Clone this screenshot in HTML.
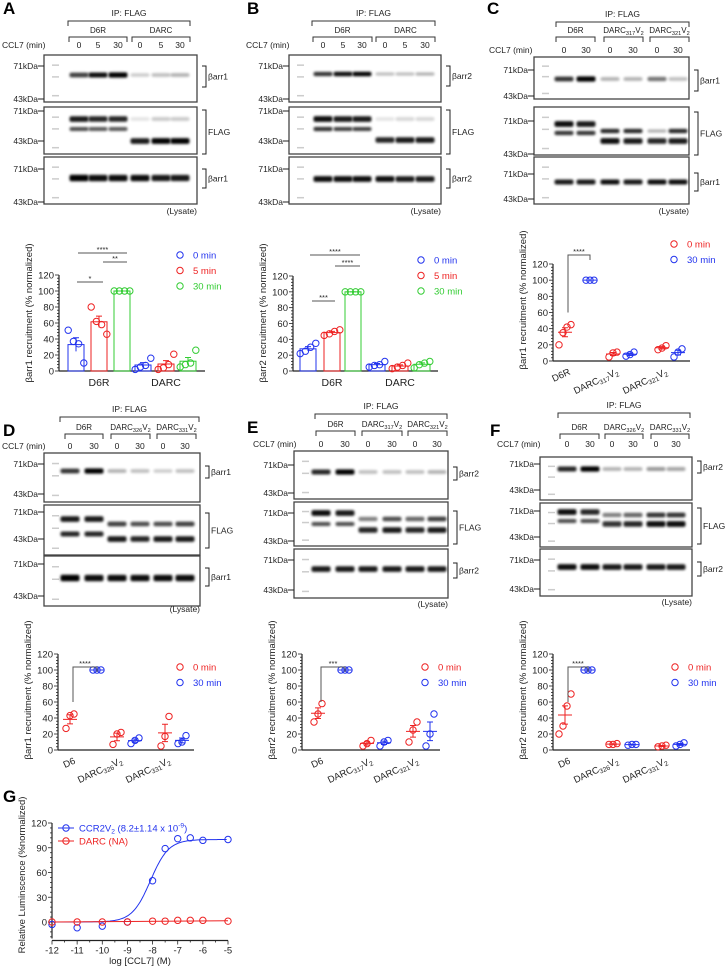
<!DOCTYPE html>
<html><head><meta charset="utf-8"><style>
html,body{margin:0;padding:0;background:#fff;}
svg{display:block;font-family:"Liberation Sans",Arial,sans-serif;}
</style></head><body>
<svg id="fig" width="726" height="971" viewBox="0 0 726 971" xmlns="http://www.w3.org/2000/svg">
<defs>
<filter id="blur" x="-50%" y="-100%" width="200%" height="300%"><feGaussianBlur stdDeviation="1.3"/></filter>
</defs>
</svg>
<script>
// ---------- DATA ----------
const aGroups=["D6R","DARC"];
const aT0=[[51,37,34,10],[2,5,7,16]];
const aT5=[[80,62,58,46],[2,4,8,21]];
const aT30=[[100,100,100,100],[5,8,10,26]];
const bT0=[[22,25,30,35],[5,7,8,12]];
const bT5=[[45,47,50,52],[3,5,7,10]];
const bT30=[[100,100,100,100],[4,8,10,12]];
const cRed=[[20,35,42,45],[5,10,11],[14,16,19]];
const cBlue=[[100,100,100],[6,8,11],[5,11,15]];
const dRed=[[27,43,45],[7,20,22],[5,17,42]];
const dBlue=[[100,100,100],[8,12,15],[8,10,18]];
const eRed=[[35,45,58],[5,8,12],[10,25,35]];
const eBlue=[[100,100,100],[5,10,12],[5,20,45]];
const fRed=[[20,30,55,70],[7,7,8],[4,5,6]];
const fBlue=[[100,100,100],[6,7,7],[5,7,9]];
const yTicks=[0,20,40,60,80,100,120];
const gX=[-12,-11,-10,-9,-8,-7.5,-7,-6.5,-6,-5];
const gBlue=[-3,-7,-5,0,50,89,101,102,99,100];
const gRed=[0,0,0,0,1,1,2,2,2,1];
const gXTicks=[-12,-11,-10,-9,-8,-7,-6,-5];
const gYTicks=[0,30,60,90,120];
const gLogEC50=-8.086, gHill=1.2;

const NS="http://www.w3.org/2000/svg";
const svg=document.getElementById('fig');
function mk(tag,attrs,parent){const e=document.createElementNS(NS,tag);for(const k in attrs)e.setAttribute(k,attrs[k]);(parent||svg).appendChild(e);return e;}
function txt(x,y,s,size,fill,anchor,extra){const t=mk('text',Object.assign({x:x,y:y,'font-size':size,fill:fill||'#222','text-anchor':anchor||'start'},extra||{}));t.innerHTML=s;return t;}
const RED='#ee2222',BLUE='#2233ee',GREEN='#33cc33';
function sub(n){return '<tspan font-size="70%" dy="2">'+n+'</tspan><tspan dy="-2">V</tspan><tspan font-size="70%" dy="2">2</tspan><tspan dy="-2"></tspan>';}
const FS=8.5, GFS=8;

// ---------- panel letters ----------
[['A',3,14],['B',247,14],['C',487,14],['D',3,436],['E',247,433],['F',490,436],['G',3,802]].forEach(p=>{
 const t=txt(p[1],p[2],p[0],17,'#000','start',{'font-weight':'bold'});
 
 
});

// ---------- BLOTS ----------
function blot(cfg){
 const g=mk('g',{});
 
 
 const ip=txt((cfg.ipX0+cfg.ipX1)/2,cfg.ipY,'IP: FLAG',FS,'#222','middle');g.appendChild(ip);
 
 
 mk('path',{d:`M${cfg.ipX0} ${cfg.ipY+10}V${cfg.ipY+5}H${cfg.ipX1}V${cfg.ipY+10}`,stroke:'#333',fill:'none','stroke-width':1},g);
 cfg.groups.forEach((gr)=>{
  const a=gr.x0,b=gr.x1;
  const gl=txt((a+b)/2,cfg.grY,gr.label,GFS,'#222','middle');g.appendChild(gl);
  
  
  mk('path',{d:`M${a} ${cfg.grY+9}V${cfg.grY+4}H${b}V${cfg.grY+9}`,stroke:'#333',fill:'none','stroke-width':1},g);
 });
 const cl=txt(cfg.cclX,cfg.laneY,'CCL7 (min)',FS,'#222','start');g.appendChild(cl);
 
 
 cfg.lanes.forEach((lx,i)=>{
  const t=txt(lx,cfg.laneY,cfg.laneLabels[i],FS,'#222','middle');g.appendChild(t);
  
  
 });
 cfg.boxes.forEach((bx,bi)=>{
  const y0=bx[0],y1=bx[1];
  const r=mk('rect',{x:cfg.x0,y:y0,width:cfg.x1-cfg.x0,height:y1-y0,fill:'#fff',stroke:'#444','stroke-width':1.3},g);
  
  
  [0.2,0.45,0.85].forEach(f=>mk('rect',{x:cfg.x0+8,y:y0+(y1-y0)*f,width:7,height:1.5,fill:'#999',opacity:0.5},g));
  cfg.bands[bi].forEach(bd=>{
   cfg.lanes.forEach((lx,li)=>{
    const v=bd.i[li]; if(v<=0)return;
    const hh=bd.h*(0.8+0.5*v);
    mk('rect',{x:lx-9.5,y:y0+bd.y-hh/2,width:19,height:hh,rx:2,fill:'#000',opacity:v,filter:'url(#blur)'},g);
   });
  });
  [[cfg.k71[bi],'71kDa'],[cfg.k43[bi],'43kDa']].forEach(k=>{
   const t=txt(cfg.x0-6,k[0]+3,k[1],FS,'#222','end');g.appendChild(t);
   
   
   mk('line',{x1:cfg.x0-6,x2:cfg.x0,y1:k[0],y2:k[0],stroke:'#222','stroke-width':1},g);
  });
  const lab=cfg.right[bi];
  const rb=lab.b;
  mk('path',{d:`M${cfg.x1+5} ${rb[0]}H${cfg.x1+9}V${rb[1]}H${cfg.x1+5}`,stroke:'#222',fill:'none','stroke-width':1},g);
  const rt=txt(cfg.x1+11,(rb[0]+rb[1])/2+3,lab.t,FS,'#222','start');g.appendChild(rt);
  
  
 });
 const ly=txt(cfg.x1,cfg.lysY,'(Lysate)',FS,'#222','end');g.appendChild(ly);
 
 
}
function B(y,h,i){return {y:y,h:h,i:i};}
const ll3=['0','5','30','0','5','30'], ll2=['0','30','0','30','0','30'];
blot({id:'a',x0:44,x1:197,ipX0:68,ipX1:190,ipY:16,grY:33,cclX:2,laneY:48,lanes:[79,98,118,140,161,180],laneLabels:ll3,
 groups:[{x0:69,x1:127,label:'D6R'},{x0:132,x1:190,label:'DARC'}],
 boxes:[[55,102],[107,154],[157,204]],k71:[66,111,169],k43:[99,141,202],
 right:[{t:'βarr1',b:[66,87]},{t:'FLAG',b:[110,154]},{t:'βarr1',b:[169,188]}],
 bands:[[B(20,4,[0.75,0.95,1,0.2,0.25,0.3])],[B(12,4.5,[0.9,0.85,0.85,0.1,0.2,0.2]),B(22,3.5,[0.7,0.65,0.65,0,0,0]),B(34,4.5,[0,0,0,0.9,1,1])],[B(21,5,[1,0.95,0.95,0.95,0.9,0.9])]],lysY:214});
blot({id:'b',x0:289,x1:441,ipX0:312,ipX1:435,ipY:16,grY:33,cclX:246,laneY:48,lanes:[323,343,362,385,405,425],laneLabels:ll3,
 groups:[{x0:313,x1:372,label:'D6R'},{x0:376,x1:435,label:'DARC'}],
 boxes:[[55,102],[107,154],[157,204]],k71:[66,111,169],k43:[99,141,202],
 right:[{t:'βarr2',b:[66,86]},{t:'FLAG',b:[110,154]},{t:'βarr2',b:[169,188]}],
 bands:[[B(19,3.5,[0.8,0.95,1,0.25,0.25,0.3])],[B(12,4.5,[0.95,0.9,0.9,0.1,0.15,0.15]),B(22,3.5,[0.8,0.75,0.75,0,0,0]),B(33,4.5,[0,0,0,0.85,0.9,0.9])],[B(22,4.5,[0.95,0.95,0.95,0.95,0.9,0.9])]],lysY:214});
blot({id:'c',x0:534,x1:689,ipX0:556,ipX1:689,ipY:17,grY:33,cclX:489,laneY:53,lanes:[564,586,610,633,657,678],laneLabels:ll2,
 groups:[{x0:556,x1:595,label:'D6R'},{x0:604,x1:643,label:'DARC'+sub('317')},{x0:650,x1:689,label:'DARC'+sub('321')}],
 boxes:[[57,99],[107,155],[157,204]],k71:[70,121,174],k43:[96,154,199],
 right:[{t:'βarr1',b:[70,91]},{t:'FLAG',b:[112,155]},{t:'βarr1',b:[173,191]}],
 bands:[[B(22,4,[0.8,1,0.3,0.3,0.55,0.25])],[B(17,4.5,[0.95,0.9,0,0,0,0]),B(24,3.5,[0,0,0.85,0.85,0.3,0.85]),B(26,3.5,[0.8,0.8,0,0,0,0]),B(34,4.5,[0,0,0.95,0.9,0.85,0.9])],[B(25,4,[0.9,0.9,0.95,0.9,0.95,0.95])]],lysY:214});
blot({id:'d',x0:44,x1:200,ipX0:60,ipX1:199,ipY:412,grY:430,cclX:2,laneY:449,lanes:[70,94,117,140,163,185],laneLabels:ll2,
 groups:[{x0:65,x1:103,label:'D6R'},{x0:111,x1:150,label:'DARC'+sub('326')},{x0:157,x1:196,label:'DARC'+sub('331')}],
 boxes:[[453,502],[505,555],[556,606]],k71:[464,512,564],k43:[494,539,596],
 right:[{t:'βarr1',b:[466,478]},{t:'FLAG',b:[513,548]},{t:'βarr1',b:[568,586]}],
 bands:[[B(18,4,[0.8,1,0.3,0.25,0.2,0.25])],[B(14,4.5,[0.9,0.9,0,0,0,0]),B(19,4,[0,0,0.75,0.7,0.7,0.75]),B(29,4,[0.85,0.85,0,0,0,0]),B(34,4.5,[0,0,0.9,0.85,0.9,0.9])],[B(22,5,[1,0.95,0.95,0.95,0.95,0.95])]],lysY:612});
blot({id:'e',x0:294,x1:448,ipX0:315,ipX1:447,ipY:409,grY:427,cclX:253,laneY:447,lanes:[321,345,368,392,415,437],laneLabels:ll2,
 groups:[{x0:316,x1:355,label:'D6R'},{x0:362,x1:402,label:'DARC'+sub('317')},{x0:408,x1:447,label:'DARC'+sub('321')}],
 boxes:[[451,499],[502,546],[549,598]],k71:[465,513,560],k43:[493,541,590],
 right:[{t:'βarr2',b:[467,480]},{t:'FLAG',b:[511,544]},{t:'βarr2',b:[563,578]}],
 bands:[[B(21,4,[0.85,1,0.25,0.25,0.25,0.3])],[B(11,4.5,[0.95,0.9,0,0,0,0]),B(17,4,[0,0,0.5,0.7,0.6,0.75]),B(22,3.5,[0.7,0.7,0,0,0,0]),B(28,4.5,[0,0,0.85,0.9,0.85,0.9])],[B(20,4.5,[0.9,0.9,0.9,0.9,0.9,0.9])]],lysY:607});
blot({id:'f',x0:540,x1:692,ipX0:558,ipX1:690,ipY:408,grY:430,cclX:497,laneY:447,lanes:[567,590,612,633,656,676],laneLabels:ll2,
 groups:[{x0:560,x1:599,label:'D6R'},{x0:605,x1:643,label:'DARC'+sub('326')},{x0:651,x1:689,label:'DARC'+sub('331')}],
 boxes:[[457,500],[503,547],[549,596]],k71:[464,511,560],k43:[490,537,589],
 right:[{t:'βarr2',b:[461,473]},{t:'FLAG',b:[508,544]},{t:'βarr2',b:[562,576]}],
 bands:[[B(12,4,[0.85,1,0.3,0.3,0.4,0.35])],[B(9,4.5,[0.95,0.85,0,0,0,0]),B(12,4,[0,0,0.5,0.6,0.8,0.8]),B(18,3.5,[0.7,0.7,0,0,0,0]),B(21,4.5,[0,0,0.8,0.85,0.95,0.95])],[B(18,4.5,[0.95,0.95,0.9,0.9,0.9,0.9])]],lysY:605});

// ---------- AXIS HELPERS ----------
function yAxis(ax,title){
 const y=v=>ax.y0-(v/120)*(ax.y0-ax.y120);
 const g=mk('g',{});
 
 
 mk('line',{x1:ax.x,x2:ax.x,y1:ax.y0,y2:ax.y120,stroke:'#222','stroke-width':1.2},g);
 for(let v=0;v<=120;v+=4){mk('line',{x1:ax.x-(v%20===0?4:2),x2:ax.x,y1:y(v),y2:y(v),stroke:'#222','stroke-width':0.8},g);}
 yTicks.forEach(v=>{const t=txt(ax.x-5,y(v)+3.5,String(v),9.5,'#222','end');g.appendChild(t);
  
  });
 mk('line',{x1:ax.x,x2:ax.x1,y1:ax.y0,y2:ax.y0,stroke:'#222','stroke-width':1.2},g);
 const cy=ax.titleY;
 const tt=txt(ax.x-27,cy,title,9.5,'#222','middle',{transform:`rotate(-90 ${ax.x-27} ${cy})`});
 
 
 return y;
}
function circ(x,y,c,name){const e=mk('circle',{cx:x,cy:y,r:3.2,fill:'none',stroke:c,'stroke-width':1});
 
 }
function spread(n,i){return (i-(n-1)/2)*4;}
function mean(a){return a.reduce((s,v)=>s+v,0)/a.length;}
function sem(a){const m=mean(a);return Math.sqrt(a.reduce((s,v)=>s+(v-m)*(v-m),0)/(a.length-1)/a.length);}
function legend(x,y,items){items.forEach((it,i)=>{circ(x,y+i*15.5,it[1],'legend-marker');
 const t=txt(x+13,y+i*15.5+3.5,it[0],9.5,it[1],'start');
 
 });}
function sig(x1,x2,yy,label){mk('line',{x1:x1,x2:x2,y1:yy,y2:yy,stroke:'#555','stroke-width':1});
 const t=txt((x1+x2)/2,yy-1,label,7.5,'#222','middle');
 
 }

// ---------- BAR CHARTS A, B ----------
function barChart(ax,series,colors,centers,title){
 const y=yAxis(ax,title);
 aGroups.forEach((gname,gi)=>{
  series.forEach((s,si)=>{
   const vals=s[gi],cx=centers[gi][si],m=mean(vals),se=sem(vals);
   const r=mk('rect',{x:cx-8,y:y(m),width:16,height:ax.y0-y(m),fill:'none',stroke:colors[si],'stroke-width':1});
   
   
   mk('path',{d:`M${cx} ${y(m-se)}V${y(m+se)}M${cx-3} ${y(m+se)}H${cx+3}`,stroke:colors[si],'stroke-width':1});
   vals.forEach((v,i)=>circ(cx+spread(vals.length,i)*1.3,y(v),colors[si],'data-point'));
  });
  const t=txt(centers[gi][1],ax.y0+15,gname,10.5,'#222','middle');
  
  
 });
}
barChart({x:59,x1:205,y0:371,y120:275,titleY:313},[aT0,aT5,aT30],[BLUE,RED,GREEN],[[76,99,122],[143,166,188]],'βarr1 recruitment (% normalized)');
legend(180,255,[['0 min',BLUE],['5 min',RED],['30 min',GREEN]]);
sig(78,127,253,'****');sig(103,127,262,'**');sig(77,103,282,'*');
barChart({x:293,x1:438,y0:371,y120:276,titleY:313},[bT0,bT5,bT30],[BLUE,RED,GREEN],[[308,332,353],[377,400,422]],'βarr2 recruitment (% normalized)');
legend(421,260,[['0 min',BLUE],['5 min',RED],['30 min',GREEN]]);
sig(310,360,255,'****');sig(335,360,266,'****');sig(312,335,301,'***');

// ---------- SCATTER CHARTS C-F ----------
function scatter(ax,red,blue,xs,cats,title){
 const y=yAxis(ax,title);
 [red,blue].forEach((ser,si)=>{
  const col=si===0?RED:BLUE;
  ser.forEach((vals,gi)=>{
   const cx=xs[gi][si],m=mean(vals),se=sem(vals);
   mk('path',{d:`M${cx-7} ${y(m)}H${cx+7}M${cx} ${y(m-se)}V${y(m+se)}M${cx-3} ${y(m-se)}H${cx+3}M${cx-3} ${y(m+se)}H${cx+3}`,stroke:col,'stroke-width':1});
   vals.forEach((v,i)=>circ(cx+spread(vals.length,i),y(v),col,'data-point'));
  });
 });
 cats.forEach((c,i)=>{const x=xs[i][0]+6;
  const t=txt(x,ax.y0+13,c,9.5,'#222','end',{transform:`rotate(-25 ${x} ${ax.y0+13})`});
  
  });
 const x1=xs[0][0]+3,x2=xs[0][1];
 mk('path',{d:`M${x1} ${y(60)}V${ax.sigY}H${x2}V${ax.sigY+5}`,stroke:'#555',fill:'none','stroke-width':1});
 const st=txt((x1+x2)/2,ax.sigY-1,ax.sig,7.5,'#222','middle');
 
 
 legend(ax.legX,ax.legY,[['0 min',RED],['30 min',BLUE]]);
}
scatter({x:553,x1:690,y0:361,y120:264,titleY:300,sigY:255,sig:'****',legX:674,legY:244},cRed,cBlue,[[565,590],[613,630],[662,678]],['D6R','DARC'+sub('317'),'DARC'+sub('321')],'βarr1 recruitment (% normalized)');
scatter({x:58,x1:194,y0:750,y120:654,titleY:690,sigY:667,sig:'****',legX:180,legY:667},dRed,dBlue,[[70,97],[117,135],[165,182]],['D6','DARC'+sub('326'),'DARC'+sub('331')],'βarr1 recruitment (% normalized)');
scatter({x:302,x1:440,y0:750,y120:654,titleY:690,sigY:667,sig:'***',legX:425,legY:667},eRed,eBlue,[[318,345],[367,384],[413,430]],['D6','DARC'+sub('317'),'DARC'+sub('321')],'βarr2 recruitment (% normalized)');
scatter({x:553,x1:690,y0:750,y120:654,titleY:690,sigY:667,sig:'****',legX:675,legY:667},fRed,fBlue,[[565,588],[613,632],[662,680]],['D6','DARC'+sub('326'),'DARC'+sub('331')],'βarr2 recruitment (% normalized)');

// ---------- PANEL G ----------
(function(){
 const gx=v=>52+(v+12)*(176/7);
 const gy=v=>922-v*(99/120);
 const g=mk('g',{});
 
 
 mk('line',{x1:52,x2:52,y1:gy(-20),y2:gy(120),stroke:'#222','stroke-width':1.2},g);
 mk('line',{x1:52,x2:228,y1:gy(-20)+2,y2:gy(-20)+2,stroke:'#222','stroke-width':1.2},g);
 for(let v=-18;v<=120;v+=6)mk('line',{x1:v%30===0?48:50,x2:52,y1:gy(v),y2:gy(v),stroke:'#222','stroke-width':0.8},g);
 gYTicks.forEach(v=>{const t=txt(47,gy(v)+3.5,String(v),9.5,'#222','end');
  
  });
 for(let v=-12;v<=-5;v+=0.5)mk('line',{x1:gx(v),x2:gx(v),y1:gy(-20)+2,y2:gy(-20)+(v%1===0?6:4),stroke:'#222','stroke-width':0.8},g);
 gXTicks.forEach(v=>{const t=txt(gx(v),gy(-20)+15,String(v),9.5,'#222','middle');
  
  });
 const xt=txt(140,964,'log [CCL7] (M)',9.5,'#222','middle');
 
 
 const yt=txt(25,875,'Relative Luminscence (%normalized)',9.5,'#222','middle',{transform:'rotate(-90 25 875)'});
 
 
 let d='';
 for(let v=-12;v<=-5;v+=0.05){const yy=100/(1+Math.pow(10,(gLogEC50-v)*gHill));d+=(d?'L':'M')+gx(v).toFixed(1)+' '+gy(yy).toFixed(1);}
 const cb=mk('path',{d:d,fill:'none',stroke:BLUE,'stroke-width':1});
 
 
 const cr=mk('path',{d:`M${gx(-12)} ${gy(0)}L${gx(-5)} ${gy(1.5)}`,fill:'none',stroke:RED,'stroke-width':1});
 
 
 gX.forEach((v,i)=>{circ(gx(v),gy(gBlue[i]),BLUE,'ccr2v2-point');circ(gx(v),gy(gRed[i]),RED,'darc-point');});
 mk('line',{x1:58,x2:74,y1:828,y2:828,stroke:BLUE},g);circ(66,828,BLUE,'legend-marker');
 const l1=txt(79,831.5,'CCR2V<tspan font-size="70%" dy="2">2</tspan><tspan dy="-2"> (8.2±1.14 x 10</tspan><tspan font-size="70%" dy="-4">-9</tspan><tspan dy="4">)</tspan>',9.5,BLUE);
 
 
 mk('line',{x1:58,x2:74,y1:841,y2:841,stroke:RED},g);circ(66,841,RED,'legend-marker');
 const l2=txt(79,844.5,'DARC (NA)',9.5,RED);
 
 
})();
</script>
</body></html>
